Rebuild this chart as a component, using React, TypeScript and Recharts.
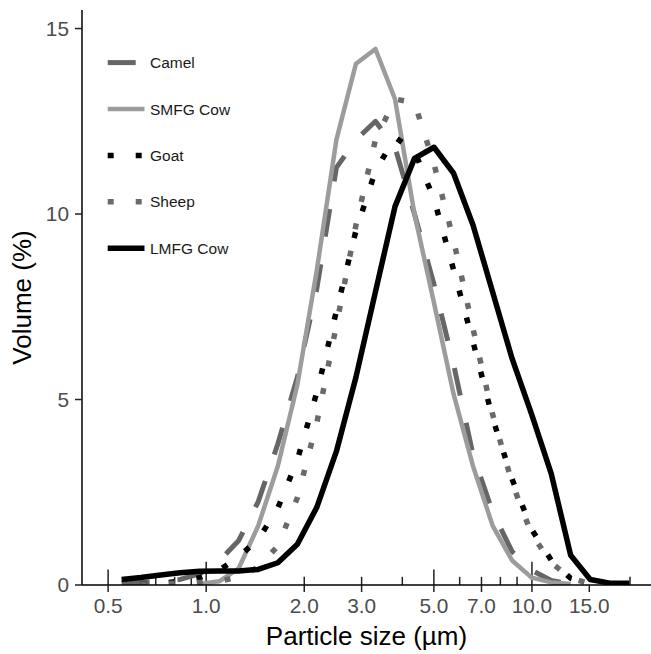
import React from 'react';
import { LineChart, Line, XAxis, YAxis, ReferenceLine, Legend } from 'recharts';

// Particle size classes (µm)
const sizes = [0.55, 0.63, 0.725, 0.832, 0.955, 1.097, 1.259, 1.445, 1.659, 1.905, 2.187, 2.51, 2.882, 3.308, 3.798, 4.36, 5.005, 5.746, 6.596, 7.573, 8.693, 9.98, 11.46, 13.15, 15.1, 17.33, 19.9];

// Volume (%) per series
const camel = [0.05, 0.07, 0.1, 0.15, 0.3, 0.65, 1.2, 2.25, 3.8, 5.6, 8.0, 11.25, 12.0, 12.5, 11.8, 10.0, 8.1, 5.95, 3.5, 1.97, 0.9, 0.4, 0.12, 0.03, null, null, null];
const smfgCow = [null, null, null, null, 0.03, 0.1, 0.45, 1.6, 3.2, 5.4, 8.5, 12.0, 14.05, 14.45, 13.1, 10.0, 7.6, 5.15, 3.2, 1.6, 0.66, 0.2, 0.07, 0.03, null, null, null];
const goat = [null, 0.02, 0.05, 0.1, 0.2, 0.4, 0.76, 1.23, 2.07, 3.37, 5.2, 7.38, 9.55, 11.16, 12.07, 11.7, 10.4, 8.5, 6.55, 4.5, 2.85, 1.5, 0.67, 0.18, 0.02, null, null];
const sheep = [null, 0.02, 0.03, 0.05, 0.07, 0.1, 0.22, 0.48, 1.05, 2.35, 4.38, 7.0, 9.7, 12.0, 13.1, 13.0, 11.35, 9.3, 6.9, 4.6, 2.75, 1.37, 0.6, 0.19, 0.03, null, null];
const lmfgCow = [0.15, 0.2, 0.27, 0.33, 0.37, 0.38, 0.38, 0.42, 0.6, 1.1, 2.1, 3.6, 5.6, 7.9, 10.2, 11.5, 11.8, 11.1, 9.7, 7.9, 6.1, 4.6, 3.0, 0.8, 0.15, 0.05, 0.05];

const seriesNames = ['Camel', 'SMFG Cow', 'Goat', 'Sheep', 'LMFG Cow'];
const seriesValues = [camel, smfgCow, goat, sheep, lmfgCow];

const xTicks = [0.5, 1, 2, 3, 5, 7, 10, 15];
const yTicks = [0, 5, 10, 15];
const logTicks = [0.5, 0.6, 0.7, 0.8, 0.9, 1, 2, 3, 4, 5, 6, 7, 8, 9, 10, 20];

const styles: Record<string, { color: string; width: number; dash?: string }> = {
  'Camel': { color: '#666666', width: 5, dash: '28 28' },
  'SMFG Cow': { color: '#9c9c9c', width: 4.5 },
  'Goat': { color: '#000000', width: 5.5, dash: '6 22' },
  'Sheep': { color: '#6a6a6a', width: 5.5, dash: '6 22' },
  'LMFG Cow': { color: '#000000', width: 5.5 },
};

const FONT = '"Liberation Sans", Arial, Helvetica, sans-serif';

const rows = sizes.map((s, i) => {
  const r: Record<string, number | null> = { size: s };
  seriesNames.forEach((n, k) => {
    r[n] = seriesValues[k][i];
  });
  return r;
});

function tickLen(v: number): number {
  const l = Math.log10(v);
  if (Math.abs(l - Math.round(l)) < 1e-9) return 0.63;
  const m = Math.log10(v / 5);
  if (Math.abs(m - Math.round(m)) < 1e-9) return 0.42;
  return 0.22;
}

const LegendBox = () => {
  const top = 62.6;
  const step = 46.4;
  return (
    <svg width={260} height={280} style={{ display: 'block' }}>
      {seriesNames.map((n, k) => {
        const st = styles[n];
        const cy = top + k * step;
        return (
          <g key={n}>
            <line x1={107.7} x2={144.5} y1={cy} y2={cy} stroke={st.color} strokeWidth={st.width} strokeDasharray={st.dash} />
            <text x={150} y={cy} dominantBaseline="central" fontSize={15.5} fontFamily={FONT} fill="#1a1a1a">{n}</text>
          </g>
        );
      })}
    </svg>
  );
};

export default function App() {
  return (
    <div style={{ position: 'absolute', left: 0, top: 0, width: 651, height: 654, background: '#fff' }}>
      <LineChart width={651} height={654} data={rows} margin={{ top: 10, right: 0, bottom: 0, left: 0 }}>
        <XAxis
          dataKey="size"
          type="number"
          scale="log"
          domain={[0.4157, 23.2]}
          allowDataOverflow
          ticks={xTicks}
          interval={0}
          tickFormatter={(v: number) => v.toFixed(1)}
          tick={{ fill: '#4d4d4d', fontSize: 20.8, fontFamily: FONT }}
          tickSize={7}
          tickMargin={6}
          height={69}
          axisLine={{ stroke: '#000', strokeWidth: 1.5 }}
          tickLine={{ stroke: '#222', strokeWidth: 1.5 }}
          label={{ value: 'Particle size (µm)', position: 'insideBottom', offset: 9, fontSize: 26, fill: '#000', fontFamily: FONT }}
        />
        <YAxis
          type="number"
          domain={[0, 15.5]}
          allowDataOverflow
          ticks={yTicks}
          interval={0}
          width={82}
          tick={{ fill: '#4d4d4d', fontSize: 20.8, fontFamily: FONT }}
          tickSize={7}
          tickMargin={6}
          axisLine={{ stroke: '#000', strokeWidth: 1.5 }}
          tickLine={{ stroke: '#222', strokeWidth: 1.5 }}
          label={{ value: 'Volume (%)', angle: -90, position: 'insideLeft', offset: 22, fontSize: 26, fill: '#000', fontFamily: FONT, style: { textAnchor: 'middle' } }}
        />
        {logTicks.map((v) => (
          <ReferenceLine
            key={'lt' + v}
            segment={[{ x: v, y: 0 }, { x: v, y: tickLen(v) }]}
            stroke="#222"
            strokeWidth={1.5}
            ifOverflow="visible"
          />
        ))}
        {seriesNames.map((n) => (
          <Line
            key={n}
            type="linear"
            dataKey={n}
            stroke={styles[n].color}
            strokeWidth={styles[n].width}
            strokeDasharray={styles[n].dash}
            strokeLinejoin="round"
            dot={false}
            activeDot={false}
            connectNulls={false}
            isAnimationActive={false}
          />
        ))}
        <Legend
          layout="vertical"
          align="center"
          verticalAlign="middle"
          wrapperStyle={{ position: 'absolute', left: 0, top: 0, width: 260, height: 280 }}
          content={() => <LegendBox />}
        />
      </LineChart>
    </div>
  );
}
